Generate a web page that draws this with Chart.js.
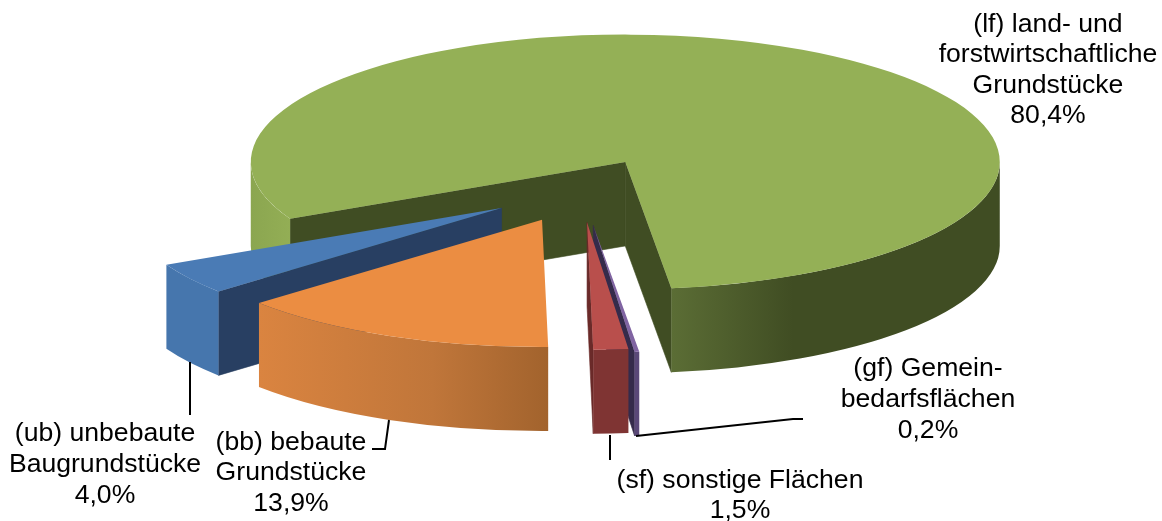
<!DOCTYPE html>
<html><head><meta charset="utf-8">
<script src="https://cdn.jsdelivr.net/npm/chart.js@4"></script>
<style>html,body{margin:0;padding:0;background:#fff}canvas{display:block}</style>
</head><body><canvas id="c" width="1162" height="521"></canvas>
<script>
const categories = ['(lf) land- und forstwirtschaftliche Grundstücke','(gf) Gemeinbedarfsflächen','(sf) sonstige Flächen','(bb) bebaute Grundstücke','(ub) unbebaute Baugrundstücke'];
const shares = [80.4,0.2,1.5,13.9,4.0];
const explode = [0.25,0.28,0.255,0.255,0.255];
const topColors = ['#94B056','#8064A2','#B94F4C','#EB8D42','#4A7BB5'];
const faceColors = ['#404D23','#352B4B','#6A2A29','#8A5428','#283F62'];
const rimGradients = [
  [[[0,'#8BA650'],[1,'#93AE55']],[[0,'#5B6D35'],[0.37,'#404D23'],[1,'#404D23']]],
  [[[0,'#5A4878'],[1,'#5A4878']]],
  [[[0,'#7F3433'],[1,'#7F3433']]],
  [[[0,'#DA8440'],[0.6,'#C0763A'],[1,'#A2632D']]],
  [[[0,'#4676AD'],[1,'#4676AD']]]
];
const drawOrder = [0,4,3,1,2];
const labelLines = [
  {lines:['(lf) land- und','forstwirtschaftliche','Grundstücke','80,4%'],x:1048,y:[32,62,93,123]},
  {lines:['(gf) Gemein-','bedarfsflächen','0,2%'],x:928,y:[376,407,438]},
  {lines:['(sf) sonstige Flächen','1,5%'],x:740,y:[488,518]},
  {lines:['(bb) bebaute','Grundstücke','13,9%'],x:291,y:[450,480,511]},
  {lines:['(ub) unbebaute','Baugrundstücke','4,0%'],x:105,y:[441,472,503]}
];
const leaders = [
  [[190,362],[190,415]],
  [[389,420],[385,449],[372,449]],
  [[610,435],[610,460]],
  [[636,436],[793,419],[803,419]]
];
const squash = 0.34, depth = 84;

const pie3d = {
  id:'pie3d',
  beforeDatasetDraw(chart,args){
    const ctx = chart.ctx, arcs = args.meta.data;
    drawOrder.forEach(i=>{
      const el = arcs[i];
      const R = el.outerRadius, a0 = el.startAngle, a1 = el.endAngle, mid = (a0+a1)/2;
      const dx = explode[i]*R*Math.cos(mid), dy = explode[i]*R*Math.sin(mid);
      const cx = el.x+dx, cy = el.y+squash*dy;
      const pt = a=>[cx+R*Math.cos(a), cy+squash*R*Math.sin(a)];
      const face = a=>{
        const p = pt(a);
        ctx.beginPath();ctx.moveTo(cx,cy);ctx.lineTo(p[0],p[1]);ctx.lineTo(p[0],p[1]+depth);ctx.lineTo(cx,cy+depth);ctx.closePath();
        ctx.fillStyle = faceColors[i];ctx.fill();
        ctx.strokeStyle = faceColors[i];ctx.lineWidth = 0.6;ctx.stroke();
      };
      if(-Math.cos(a0)>0) face(a0);
      if(Math.cos(a1)>0) face(a1);
      let part = 0;
      for(let k=0;k<3;k++){
        const b0 = Math.max(a0,2*Math.PI*k), b1 = Math.min(a1,2*Math.PI*k+Math.PI);
        if(b1<=b0) continue;
        const xs = [pt(b0)[0],pt(b1)[0]];
        const g = ctx.createLinearGradient(Math.min(...xs),0,Math.max(...xs),0);
        rimGradients[i][part].forEach(s=>g.addColorStop(s[0],s[1]));
        part++;
        ctx.beginPath();
        ctx.ellipse(cx,cy,R,squash*R,0,b0,b1,false);
        ctx.ellipse(cx,cy+depth,R,squash*R,0,b1,b0,true);
        ctx.closePath();
        ctx.fillStyle = g;ctx.fill();
      }
      ctx.save();
      ctx.translate(el.x,el.y);ctx.scale(1,squash);ctx.translate(dx,dy);ctx.translate(-el.x,-el.y);
      el.draw(ctx);
      ctx.restore();
    });
    return false;
  },
  afterDatasetsDraw(chart){
    const ctx = chart.ctx;
    ctx.save();
    ctx.strokeStyle='#000';ctx.lineWidth=2;
    leaders.forEach(l=>{ctx.beginPath();l.forEach((p,i)=>i?ctx.lineTo(p[0],p[1]):ctx.moveTo(p[0],p[1]));ctx.stroke();});
    ctx.fillStyle='#000';ctx.font='26.6px "Liberation Sans"';ctx.textAlign='center';ctx.textBaseline='alphabetic';
    labelLines.forEach(l=>l.lines.forEach((t,i)=>ctx.fillText(t,l.x,l.y[i])));
    ctx.restore();
  }
};

new Chart(document.getElementById('c'),{
  type:'pie',
  data:{labels:categories,datasets:[{data:shares,backgroundColor:topColors,borderWidth:0,clip:false}]},
  options:{
    responsive:false,animation:false,rotation:243.5,radius:374.5,
    layout:{padding:{bottom:141}},
    plugins:{legend:{display:false},tooltip:{enabled:false}}
  },
  plugins:[pie3d]
});
</script></body></html>
